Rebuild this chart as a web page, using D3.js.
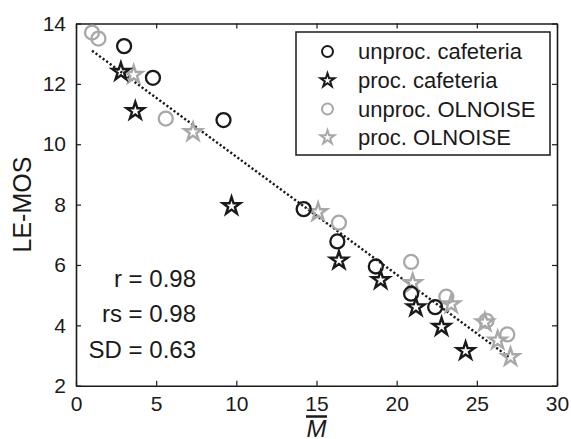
<!DOCTYPE html>
<html>
<head>
<meta charset="utf-8">
<script src="https://cdn.jsdelivr.net/npm/d3@7"></script>
<style>
  html, body { margin: 0; padding: 0; background: #fff; }
  svg { display: block; font-family: "Liberation Sans", Arial, sans-serif; }
</style>
</head>
<body>
<svg id="chart" width="571" height="439"></svg>
<script>
// ---- data ----
const unprocCafX = [3.0, 4.8, 9.2, 14.2, 16.3, 18.7, 20.9, 22.4];
const unprocCafY = [13.25, 12.2, 10.8, 7.85, 6.78, 5.95, 5.05, 4.6];
const procCafX = [2.8, 3.7, 9.7, 16.4, 19.0, 21.2, 22.8, 24.3];
const procCafY = [12.4, 11.1, 7.95, 6.15, 5.5, 4.6, 3.95, 3.15];
const unprocOlX = [1.0, 1.4, 5.6, 16.4, 20.9, 23.1, 25.6, 26.9];
const unprocOlY = [13.7, 13.5, 10.85, 7.4, 6.1, 4.95, 4.15, 3.7];
const procOlX = [3.6, 7.3, 15.1, 21.0, 23.4, 25.5, 26.3, 27.1];
const procOlY = [12.3, 10.4, 7.75, 5.4, 4.7, 4.1, 3.5, 2.95];
const fitX = [1.0, 27.0];
const fitY = [13.1, 2.95];
const xTicks = [0, 5, 10, 15, 20, 25, 30];
const yTicks = [2, 4, 6, 8, 10, 12, 14];
const legendLabels = ["unproc. cafeteria", "proc. cafeteria", "unproc. OLNOISE", "proc. OLNOISE"];
const statLabels = ["r = 0.98", "rs = 0.98", "SD = 0.63"];

// ---- layout ----
const svg = d3.select("#chart");
const L = 76, R = 557, T = 23.5, B = 385.7;
const x = d3.scaleLinear().domain([0, 30]).range([L, R]);
const y = d3.scaleLinear().domain([2, 14]).range([B, T]);
const dark = "#1a1a1a", grey = "#a8a8a8";

// axes (box with inward ticks on all sides)
const tickLen = 5;
const fmt = d3.format("d");
svg.append("g").attr("transform", `translate(0,${B})`)
  .call(d3.axisBottom(x).tickValues(xTicks).tickSizeInner(-tickLen).tickSizeOuter(0).tickPadding(10).tickFormat(fmt))
  .call(g => g.selectAll("text").attr("font-size", 21).attr("fill", dark).attr("font-family", "Liberation Sans, Arial, sans-serif"));
svg.append("g").attr("transform", `translate(0,${T})`)
  .call(d3.axisTop(x).tickValues(xTicks).tickSizeInner(-tickLen).tickSizeOuter(0).tickFormat(""));
svg.append("g").attr("transform", `translate(${L},0)`)
  .call(d3.axisLeft(y).tickValues(yTicks).tickSizeInner(-tickLen).tickSizeOuter(0).tickPadding(10).tickFormat(fmt))
  .call(g => g.selectAll("text").attr("font-size", 21).attr("fill", dark).attr("font-family", "Liberation Sans, Arial, sans-serif"));
svg.append("g").attr("transform", `translate(${R},0)`)
  .call(d3.axisRight(y).tickValues(yTicks).tickSizeInner(-tickLen).tickSizeOuter(0).tickFormat(""));
svg.selectAll(".domain").attr("stroke", dark).attr("stroke-width", 1.6);
svg.selectAll(".tick line").attr("stroke", dark).attr("stroke-width", 1.2);

// fit line
svg.append("path")
  .datum(fitX.map((v, i) => [v, fitY[i]]))
  .attr("d", d3.line().x(d => x(d[0])).y(d => y(d[1])))
  .attr("fill", "none").attr("stroke", dark).attr("stroke-width", 2.4)
  .attr("stroke-dasharray", "2.2,2.2");

const star = d3.symbol().type(d3.symbolStar);

function circles(xs, ys, color) {
  svg.append("g").selectAll("circle").data(xs.map((v, i) => [v, ys[i]])).join("circle")
    .attr("cx", d => x(d[0])).attr("cy", d => y(d[1])).attr("r", 7)
    .attr("fill", "none").attr("stroke", color).attr("stroke-width", 2.3);
}
function stars(xs, ys, color) {
  svg.append("g").selectAll("path").data(xs.map((v, i) => [v, ys[i]])).join("path")
    .attr("transform", d => `translate(${x(d[0])},${y(d[1])})`)
    .attr("d", star.size(95)())
    .attr("fill", "none").attr("stroke", color).attr("stroke-width", 2.4)
    .attr("stroke-linejoin", "miter");
}
circles(unprocOlX, unprocOlY, grey);
stars(procOlX, procOlY, grey);
circles(unprocCafX, unprocCafY, dark);
stars(procCafX, procCafY, dark);

// legend
const lg = svg.append("g");
lg.append("rect").attr("x", 296).attr("y", 32).attr("width", 254).attr("height", 123)
  .attr("fill", "#fff").attr("stroke", dark).attr("stroke-width", 1.5);
const ly = [51.5, 80.5, 109, 137.5];
const kinds = ["circle", "star", "circle", "star"];
const colors = [dark, dark, grey, grey];
legendLabels.forEach((lab, i) => {
  if (kinds[i] === "circle") {
    lg.append("circle").attr("cx", 327.5).attr("cy", ly[i]).attr("r", 5.5)
      .attr("fill", "none").attr("stroke", colors[i]).attr("stroke-width", 2);
  } else {
    lg.append("path").attr("transform", `translate(327.5,${ly[i]})`)
      .attr("d", star.size(60)())
      .attr("fill", "none").attr("stroke", colors[i]).attr("stroke-width", 2);
  }
  lg.append("text").attr("x", 358).attr("y", ly[i] + 7.5).attr("font-size", 22)
    .attr("fill", dark).text(lab);
});

// stats
statLabels.forEach((s, i) => {
  svg.append("text").attr("x", 196).attr("y", 286.5 + i * 35.5).attr("text-anchor", "end")
    .attr("font-size", 24).attr("fill", dark).text(s);
});

// axis labels
svg.append("text").attr("transform", `translate(31,${(T + B) / 2}) rotate(-90)`)
  .attr("text-anchor", "middle").attr("font-size", 25).attr("fill", dark).text("LE-MOS");
svg.append("text").attr("x", x(15)).attr("y", 437).attr("text-anchor", "middle")
  .attr("font-size", 24).attr("font-style", "italic").attr("fill", dark).text("M");
svg.append("line").attr("x1", x(15) - 10.5).attr("x2", x(15) + 10.5)
  .attr("y1", 416.5).attr("y2", 416.5).attr("stroke", dark).attr("stroke-width", 2.5);
</script>
</body>
</html>
